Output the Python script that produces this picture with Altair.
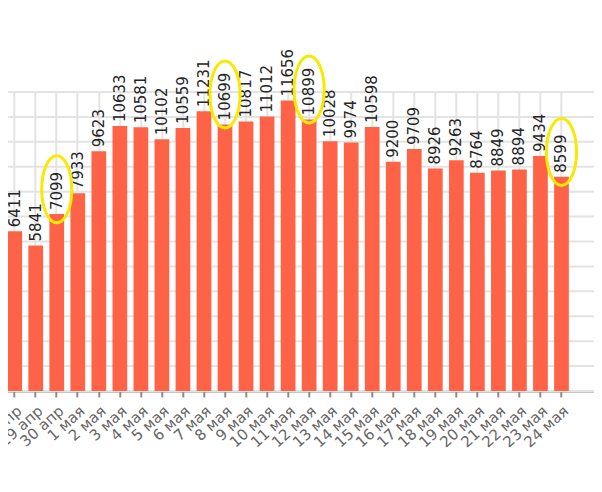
import altair as alt
import pandas as pd

dates = ["27 апр", "28 апр", "29 апр", "30 апр"] + [f"{d} мая" for d in range(1, 25)]
values = [6200, 6411, 5841, 7099, 7933, 9623, 10633, 10581, 10102, 10559, 11231,
          10699, 10817, 11012, 11656, 10899, 10028, 9974, 10598, 9200, 9709,
          8926, 9263, 8764, 8849, 8894, 9434, 8599]
highlighted = ["30 апр", "8 мая", "12 мая", "24 мая"]
next_day = ["25 мая"]  # empty slot after the last day
y_ticks = list(range(0, 12001, 1000))

Y_MAX = 12000
PLOT_H = 299

df = pd.DataFrame({"date": dates, "value": values})
df["label"] = df["value"].astype(str)
grid_df = pd.DataFrame({"g": y_ticks})

FONT = "DejaVu Sans"
ellipse = "M0,-1A0.45,1,0,1,1,0,1A0.45,1,0,1,1,0,-1Z"

x_scale = alt.Scale(domain=dates + next_day, paddingInner=0.3, paddingOuter=0.5)
y_scale = alt.Scale(domain=[0, Y_MAX], nice=False)
x = alt.X("date:N", title=None, scale=x_scale,
          axis=alt.Axis(values=dates, labelAngle=-42, labelFontSize=15, labelFont=FONT,
                        labelColor="#666666", domainColor="#8c8c8c", domainWidth=2,
                        tickColor="#8c8c8c", tickWidth=2, tickSize=6,
                        grid=True, gridColor="#e3e3e3", gridWidth=2, labelPadding=6))
y = alt.Y("value:Q", title=None, scale=y_scale, axis=None)

grid = alt.Chart(grid_df).mark_rule(color="#e3e3e3", strokeWidth=2).encode(
    y=alt.Y("g:Q", scale=y_scale, axis=None))

base = alt.Chart(df)
bars = base.mark_bar(color="#ff6347").encode(x=x, y=y)
texts = base.mark_text(angle=270, align="left", baseline="middle", dx=4,
                       fontSize=15, font=FONT, color="#262626").encode(
    x=alt.X("date:N", scale=x_scale), y=alt.Y("value:Q", scale=y_scale), text="label:N")
rings = base.transform_filter(
    alt.FieldOneOfPredicate(field="date", oneOf=highlighted)
).transform_calculate(
    yc=f"datum.value + (4 + length(datum.label) * 5.2) * {Y_MAX} / {PLOT_H}"
).mark_point(shape=ellipse, size=4489, filled=False, stroke="#f7ea00",
             strokeWidth=3, opacity=1).encode(
    x=alt.X("date:N", scale=x_scale), y=alt.Y("yc:Q", scale=y_scale))

chart = alt.layer(grid, bars, texts, rings).properties(
    width=624.6, height=PLOT_H,
    autosize=alt.AutoSizeParams(type="none"),
    padding={"left": -32.2, "top": 84, "right": -6.4, "bottom": 80},
).configure_view(stroke=None).configure_axis(gridCap="butt")

chart.save("out.html", embed_options={"renderer": "svg", "actions": False})
